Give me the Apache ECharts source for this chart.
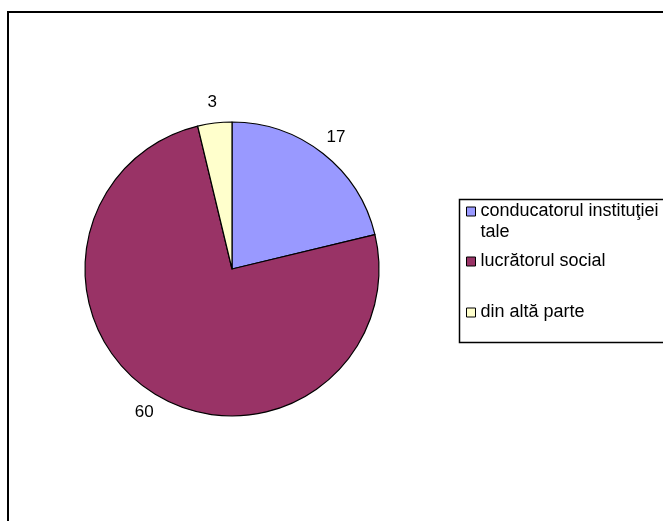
<!DOCTYPE html>
<html>
<head>
<meta charset="utf-8">
<script src="https://cdn.jsdelivr.net/npm/echarts@6/dist/echarts.min.js"></script>
<style>
html,body{margin:0;padding:0;background:#fff;}
#chart{width:663px;height:521px;}
</style>
</head>
<body>
<div id="chart"></div>
<script>
const categories = ["conducatorul instituţiei tale", "lucrătorul social", "din altă parte"];
const values = [17, 60, 3];
const colors = ["#9999FF", "#993366", "#FFFFCC"];

const FONT = '"Liberation Sans", Arial, sans-serif';
const chart = echarts.init(document.getElementById('chart'), null, {renderer: 'canvas'});

const pieData = categories.map((name, i) => ({
  name: name,
  value: values[i],
  itemStyle: {color: colors[i]}
}));

function legendFor(i, top, extra) {
  return Object.assign({
    show: true,
    data: [categories[i]],
    left: 466,
    top: top,
    padding: 0,
    orient: 'vertical',
    icon: 'rect',
    itemWidth: 9,
    itemHeight: 9,
    selectedMode: false,
    textStyle: {fontFamily: FONT, fontSize: 18, color: '#000', lineHeight: 21},
    itemStyle: {borderColor: '#000', borderWidth: 1}
  }, extra || {});
}

const option = {
  backgroundColor: '#fff',
  animation: false,
  graphic: [
    {type: 'rect', shape: {x: 8, y: 12, width: 720, height: 600}, style: {fill: 'none', stroke: '#000', lineWidth: 2}, silent: true, z: 0},
    {type: 'rect', shape: {x: 459.5, y: 199.5, width: 400, height: 143}, style: {fill: '#fff', stroke: '#000', lineWidth: 1.5}, silent: true, z: 1}
  ],
  legend: [
    legendFor(0, 180, {
      formatter: function () { return '\nconducatorul instituţiei\ntale'; }
    }),
    legendFor(1, 251),
    legendFor(2, 302)
  ],
  series: [
    {
      type: 'pie',
      center: [232, 269],
      radius: [0, 147],
      startAngle: 90,
      clockwise: true,
      silent: true,
      label: {show: false},
      labelLine: {show: false},
      emphasis: {disabled: true},
      itemStyle: {borderColor: '#000', borderWidth: 1.2},
      data: pieData,
      z: 2
    },
    {
      type: 'pie',
      center: [232, 269],
      radius: [147, 183],
      startAngle: 90,
      clockwise: true,
      silent: true,
      emphasis: {disabled: true},
      itemStyle: {color: 'rgba(0,0,0,0)', borderWidth: 0},
      label: {show: true, position: 'inside', formatter: '{c}', fontFamily: FONT, fontSize: 17, color: '#000'},
      labelLine: {show: false},
      data: categories.map((name, i) => ({name: name, value: values[i]})),
      z: 3
    }
  ]
};
chart.setOption(option);
</script>
</body>
</html>
